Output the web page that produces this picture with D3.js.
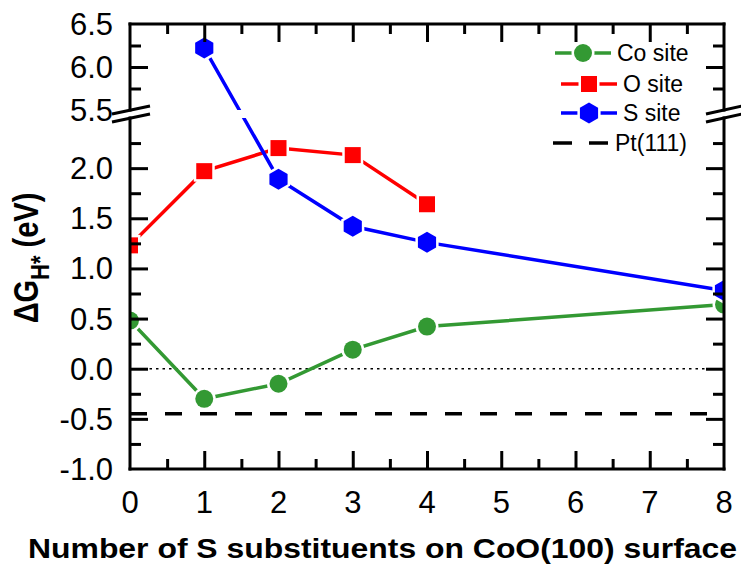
<!DOCTYPE html>
<html>
<head>
<meta charset="utf-8">
<script src="https://cdn.jsdelivr.net/npm/d3@7"></script>
<style>
  body { margin: 0; background: #fff; }
  text { font-family: "Liberation Sans", Arial, sans-serif; fill: #000; }
</style>
</head>
<body>
<div id="chart"></div>
<script>
// Data
const coX = [0, 1, 2, 3, 4, 8];
const coSite = [0.48, -0.30, -0.15, 0.19, 0.42, 0.64];
const oX = [0, 1, 2, 3, 4];
const oSite = [1.23, 1.97, 2.20, 2.13, 1.64];
const sX = [1, 2, 3, 4, 8];
const sSite = [6.22, 1.89, 1.42, 1.26, 0.78];
const pt111 = -0.45;

const xTicks = [0, 1, 2, 3, 4, 5, 6, 7, 8];
const lowerTicks = [-1.0, -0.5, 0.0, 0.5, 1.0, 1.5, 2.0];
const upperTicks = [5.5, 6.0, 6.5];
const legendLabels = ['Co site', 'O site', 'S site', 'Pt(111)'];

// Graph setup
const width = 741;
const height = 564;
const plotLeft = 130, plotRight = 724, plotTop = 24, plotBottom = 469;

const svg = d3.select('#chart')
  .append('svg')
  .attr('width', width)
  .attr('height', height);

const x = d3.scaleLinear().domain([0, 8]).range([plotLeft, plotRight]);
// broken y axis: lower and upper segments
const yLow = d3.scaleLinear().domain([-1, 2.5]).range([plotBottom, 118]);
const yHigh = d3.scaleLinear().domain([5.5, 6.5]).range([110, plotTop]);
const y = v => (v > 4 ? yHigh(v) : yLow(v));

const green = '#339933', red = '#ff0000', blue = '#0000ff';

svg.append('clipPath').attr('id', 'plot-clip')
  .append('rect')
  .attr('x', plotLeft).attr('y', plotTop)
  .attr('width', plotRight - plotLeft).attr('height', plotBottom - plotTop);

const plot = svg.append('g').attr('clip-path', 'url(#plot-clip)');

// reference lines
plot.append('line')
  .attr('x1', x(0)).attr('x2', x(8))
  .attr('y1', y(0)).attr('y2', y(0))
  .attr('stroke', '#000').attr('stroke-width', 1.5)
  .attr('stroke-dasharray', '2.5,4');

plot.append('line')
  .attr('x1', x(0)).attr('x2', x(8))
  .attr('y1', y(pt111)).attr('y2', y(pt111))
  .attr('stroke', '#000').attr('stroke-width', 3.5)
  .attr('stroke-dasharray', '17,18');

// hexagon, pointy top
function hexPath(r) {
  const pts = d3.range(6).map(i => {
    const a = Math.PI / 2 + i * Math.PI / 3;
    return [r * Math.cos(a), -r * Math.sin(a)];
  });
  return 'M' + pts.map(p => p.join(',')).join('L') + 'Z';
}

function drawMarker(g, kind, color, cx, cy) {
  let m;
  if (kind === 'circle') {
    m = g.append('circle').attr('cx', cx).attr('cy', cy).attr('r', 9);
  } else if (kind === 'square') {
    m = g.append('rect').attr('x', cx - 8).attr('y', cy - 8).attr('width', 16).attr('height', 16);
  } else {
    m = g.append('path').attr('d', hexPath(10.5)).attr('transform', `translate(${cx},${cy})`);
  }
  m.attr('fill', color).attr('stroke', '#fff').attr('stroke-width', 5)
    .attr('paint-order', 'stroke');
}

const series = [
  { xs: coX, ys: coSite, color: green, kind: 'circle' },
  { xs: oX, ys: oSite, color: red, kind: 'square' },
  { xs: sX, ys: sSite, color: blue, kind: 'hex' }
];

const line = d3.line().x(d => x(d[0])).y(d => y(d[1]));

series.forEach(s => {
  const pts = s.xs.map((v, i) => [v, s.ys[i]]);
  plot.append('path')
    .attr('d', line(pts))
    .attr('fill', 'none')
    .attr('stroke', s.color)
    .attr('stroke-width', 3.5);
  pts.forEach(p => drawMarker(plot, s.kind, s.color, x(p[0]), y(p[1])));
});

// white gap of the axis break
svg.append('rect')
  .attr('x', plotLeft - 2).attr('y', yHigh(5.5))
  .attr('width', plotRight - plotLeft + 4).attr('height', yLow(2.5) - yHigh(5.5))
  .attr('fill', '#fff');

// frame
const frame = svg.append('g').attr('stroke', '#000').attr('stroke-width', 3).attr('stroke-linecap', 'square');
[plotLeft, plotRight].forEach(xx => {
  frame.append('line').attr('x1', xx).attr('x2', xx).attr('y1', yLow(-1)).attr('y2', yLow(2.5));
  frame.append('line').attr('x1', xx).attr('x2', xx).attr('y1', yHigh(5.5)).attr('y2', yHigh(6.5));
});
frame.append('line').attr('x1', plotLeft).attr('x2', plotRight).attr('y1', plotBottom).attr('y2', plotBottom);
frame.append('line').attr('x1', plotLeft).attr('x2', plotRight).attr('y1', plotTop).attr('y2', plotTop);

// break marks
const brk = svg.append('g').attr('stroke', '#000').attr('stroke-width', 3);
[[112, 150], [706, 742]].forEach(([a, b]) => {
  [0, 8].forEach(off => {
    brk.append('line')
      .attr('x1', a).attr('y1', 114 + off)
      .attr('x2', b).attr('y2', 106 + off);
  });
});

// ticks (inward) through d3 axes
function styleAxis(g) {
  g.select('.domain').remove();
  g.selectAll('.tick line').attr('stroke', '#000').attr('stroke-width', 3);
  g.selectAll('text').remove();
}

const xMinor = d3.range(0.5, 8, 1);
svg.append('g').attr('transform', `translate(0,${plotBottom})`)
  .call(d3.axisBottom(x).tickValues(xTicks.slice(1, -1)).tickSize(-18)).call(styleAxis);
svg.append('g').attr('transform', `translate(0,${plotBottom})`)
  .call(d3.axisBottom(x).tickValues(xMinor).tickSize(-10)).call(styleAxis);
svg.append('g').attr('transform', `translate(0,${plotTop})`)
  .call(d3.axisTop(x).tickValues(xTicks.slice(1, -1)).tickSize(-18)).call(styleAxis);
svg.append('g').attr('transform', `translate(0,${plotTop})`)
  .call(d3.axisTop(x).tickValues(xMinor).tickSize(-10)).call(styleAxis);

const lowMajor = [-0.5, 0, 0.5, 1.0, 1.5, 2.0];
const lowMinor = [-0.75, -0.25, 0.25, 0.75, 1.25, 1.75, 2.25];
const highMajor = [6.0];
const highMinor = [5.75, 6.25];
[[d3.axisLeft, plotLeft], [d3.axisRight, plotRight]].forEach(([ax, pos]) => {
  svg.append('g').attr('transform', `translate(${pos},0)`)
    .call(ax(yLow).tickValues(lowMajor).tickSize(-18)).call(styleAxis);
  svg.append('g').attr('transform', `translate(${pos},0)`)
    .call(ax(yLow).tickValues(lowMinor).tickSize(-11)).call(styleAxis);
  svg.append('g').attr('transform', `translate(${pos},0)`)
    .call(ax(yHigh).tickValues(highMajor).tickSize(-18)).call(styleAxis);
  svg.append('g').attr('transform', `translate(${pos},0)`)
    .call(ax(yHigh).tickValues(highMinor).tickSize(-11)).call(styleAxis);
});

// tick labels
const fmt = d3.format('.1f');
const labels = svg.append('g').attr('font-size', 31);
xTicks.forEach(t => {
  labels.append('text').attr('x', x(t)).attr('y', 513)
    .attr('text-anchor', 'middle').text(t);
});
lowerTicks.forEach(t => {
  labels.append('text').attr('x', 113).attr('y', yLow(t) + 11)
    .attr('text-anchor', 'end').text(fmt(t).replace('−', '-'));
});
upperTicks.forEach(t => {
  labels.append('text').attr('x', 113).attr('y', yHigh(t) + 11)
    .attr('text-anchor', 'end').text(fmt(t));
});

// axis titles
svg.append('text')
  .attr('x', 28).attr('y', 558)
  .attr('font-size', 27).attr('font-weight', 'bold')
  .attr('textLength', 709).attr('lengthAdjust', 'spacingAndGlyphs')
  .text('Number of S substituents on CoO(100) surface');

const yt = svg.append('text')
  .attr('transform', 'translate(38,258) scale(1.2,1) rotate(-90)')
  .attr('text-anchor', 'middle')
  .attr('font-size', 29).attr('font-weight', 'bold');
yt.append('tspan').text('ΔG');
yt.append('tspan').attr('dy', 9).attr('font-size', 22).text('H*');
yt.append('tspan').attr('dy', -9).text(' (eV)');

// legend
const legend = svg.append('g').attr('font-size', 23);
const rows = [
  { y: 53, color: green, kind: 'circle', x1: 555, x2: 611, tx: 617 },
  { y: 84, color: red, kind: 'square', x1: 561, x2: 617, tx: 623 },
  { y: 113, color: blue, kind: 'hex', x1: 561, x2: 617, tx: 623 },
  { y: 143, color: '#000', kind: null, x1: 553, x2: 608, tx: 615 }
];
rows.forEach((r, i) => {
  const l = legend.append('line')
    .attr('x1', r.x1).attr('x2', r.x2).attr('y1', r.y).attr('y2', r.y)
    .attr('stroke', r.color).attr('stroke-width', 3.5);
  if (r.kind) {
    drawMarker(legend, r.kind, r.color, (r.x1 + r.x2) / 2, r.y);
  } else {
    l.attr('stroke-dasharray', '19,17');
  }
  legend.append('text').attr('x', r.tx).attr('y', r.y + 8).text(legendLabels[i]);
});
</script>
</body>
</html>
